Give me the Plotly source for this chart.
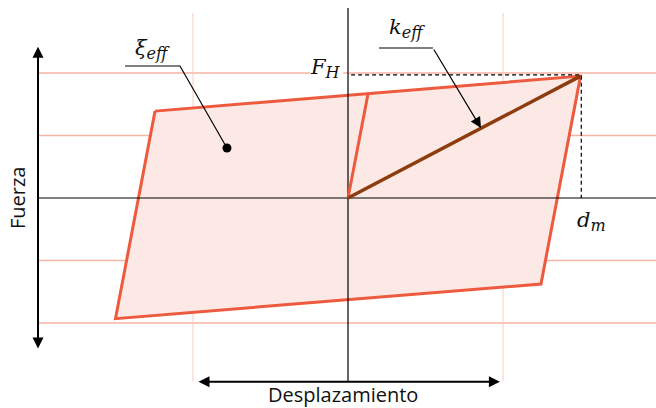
# hysteresis loop sketch (bilinear model) with k_eff and xi_eff labels
import plotly.graph_objects as go

# loop vertices (displacement, force), closed
loop_d = [-1.245, 1.50, 1.245, -1.50, -1.245]
loop_f = [1.39, 1.95, -1.376, -1.93, 1.39]

# first loading branch up to yield
yield_d = [0.0, 0.129]
yield_f = [0.0, 1.665]

# peak point (d_m, F_H)
d_m = 1.505
F_H = 1.95

# background grid
grid_f = [-2.0, -1.0, 1.0, 2.0]
grid_d = [-1.0, 1.0]

# leader lines for the labels
xi_d = [-1.439, -1.084, -0.781]
xi_f = [2.112, 2.112, 0.80]
k_d = [0.20, 0.548]
k_f = [2.40, 2.40]
k_tip = (0.858, 1.12)

red = "#EE5A3E"
fill = "#FCE9E6"
gridc = "#F7B3A5"
brown = "#8E3B0E"

fig = go.Figure()

# grid lines
for f in grid_f:
  if f == 2.0:
    segs = [(-2.0, -0.245), (-0.03, 2.0)]   # gap for the F_H label
  else:
    segs = [(-2.0, 2.0)]
  for a, b in segs:
    fig.add_shape(type="line", x0=a, x1=b, y0=f, y1=f, line=dict(color=gridc, width=1.5), layer="below")
for d in grid_d:
  fig.add_shape(type="line", x0=d, x1=d, y0=-2.93, y1=2.96, line=dict(color="#F9C9BF", width=1), layer="below")

# filled loop
fig.add_trace(go.Scatter(x=loop_d, y=loop_f, mode="lines", fill="toself", fillcolor=fill,
                         line=dict(color=red, width=3), hoverinfo="skip"))

# axes
fig.add_trace(go.Scatter(x=[-2.0, 2.0], y=[0, 0], mode="lines", line=dict(color="black", width=1.2), hoverinfo="skip"))
fig.add_trace(go.Scatter(x=[0, 0], y=[-2.93, 3.04], mode="lines", line=dict(color="black", width=1.2), hoverinfo="skip"))

# initial branch
fig.add_trace(go.Scatter(x=yield_d, y=yield_f, mode="lines", line=dict(color=red, width=3), hoverinfo="skip"))

# dashed guides to the peak
fig.add_trace(go.Scatter(x=[0.02, d_m, d_m], y=[F_H + 0.02, F_H + 0.02, 0], mode="lines",
                         line=dict(color="black", width=1.2, dash="4px,3px"), hoverinfo="skip"))

# effective stiffness
fig.add_trace(go.Scatter(x=[0, d_m - 0.005], y=[0, F_H], mode="lines", line=dict(color=brown, width=3.5), hoverinfo="skip"))

# xi_eff leader + dot
fig.add_trace(go.Scatter(x=xi_d, y=xi_f, mode="lines", line=dict(color="black", width=1.2), hoverinfo="skip"))
fig.add_trace(go.Scatter(x=[xi_d[-1]], y=[xi_f[-1]], mode="markers", marker=dict(color="black", size=9), hoverinfo="skip"))

# k_eff leader
fig.add_trace(go.Scatter(x=k_d, y=k_f, mode="lines", line=dict(color="black", width=1.2), hoverinfo="skip"))
fig.add_annotation(x=k_tip[0], y=k_tip[1], ax=k_d[1], ay=k_f[1], axref="x", ayref="y",
                   text="", showarrow=True, arrowhead=2, arrowsize=1.8, arrowwidth=1.2, arrowcolor="black", standoff=0)

# double arrows
fig.add_annotation(x=-2.0, y=2.42, ax=-2.0, ay=-2.43, axref="x", ayref="y", text="", showarrow=True,
                   arrowhead=2, arrowside="end+start", arrowsize=1.1, arrowwidth=2, arrowcolor="black", standoff=0)
fig.add_annotation(x=0.98, y=-2.94, ax=-0.974, ay=-2.94, axref="x", ayref="y", text="", showarrow=True,
                   arrowhead=2, arrowside="end+start", arrowsize=1.1, arrowwidth=2, arrowcolor="black", standoff=0)

# texts
sans = dict(family="Open Sans", size=20, color="#111111")
serif = dict(family="DejaVu Serif", size=21, color="#111111")


def mathlabel(main, sub):
  return ("<i>" + main + "<sub><span style='font-size:16px'>" + sub + "</span></sub></i>")


fig.add_annotation(x=-2.135, y=0.0, text="Fuerza", textangle=-90, showarrow=False, font=sans)
fig.add_annotation(x=-0.03, y=-3.14, text="Desplazamiento", showarrow=False, font=sans)
fig.add_annotation(x=-0.148, y=2.08, text=mathlabel("F", "H"), showarrow=False, font=serif)
fig.add_annotation(x=1.57, y=-0.38, text=mathlabel("d", "m"), showarrow=False, font=serif)
fig.add_annotation(x=0.38, y=2.72, text=mathlabel("k", "eff"), showarrow=False, font=serif)
fig.add_annotation(x=-1.26, y=2.38, text=mathlabel("ξ", "eff"), showarrow=False, font=serif)

fig.update_layout(
  width=656, height=408,
  margin=dict(l=0, r=0, t=0, b=0),
  plot_bgcolor="white", paper_bgcolor="white",
  showlegend=False,
  xaxis=dict(range=[-348 / 155, 308 / 155], visible=False, fixedrange=True),
  yaxis=dict(range=[-210 / 62.5, 198 / 62.5], visible=False, fixedrange=True),
)

# drop the default page margin so the figure sits at the window corner
fig.write_html("out.html", config={"displayModeBar": False},
               post_script="document.body.style.margin='0';")
